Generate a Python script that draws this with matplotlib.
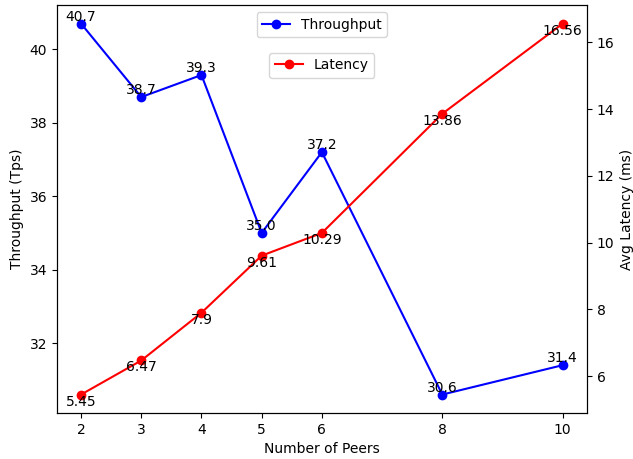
import matplotlib
matplotlib.use("Agg")
import matplotlib.pyplot as plt

peers = [2, 3, 4, 5, 6, 8, 10]
throughput = [40.7, 38.7, 39.3, 35.0, 37.2, 30.6, 31.4]
latency = [5.45, 6.47, 7.9, 9.61, 10.29, 13.86, 16.56]

fig, ax1 = plt.subplots(figsize=(6.33, 4.59), dpi=100)
fig.subplots_adjust(left=0.090, right=0.927, bottom=0.100, top=0.989)

ax1.plot(peers, throughput, marker="o", color="blue", label="Throughput")
for x, y in zip(peers, throughput):
    ax1.text(x, y, str(y), ha="center", va="bottom", fontsize=10)
ax1.set_xlabel("Number of Peers")
ax1.set_ylabel("Throughput (Tps)")
ax1.set_xticks(peers)
ax1.legend(loc="upper center")

ax2 = ax1.twinx()
ax2.plot(peers, latency, marker="o", color="red", label="Latency")
for x, y in zip(peers, latency):
    ax2.text(x, y, str(y), ha="center", va="top", fontsize=10)
ax2.set_ylabel("Avg Latency (ms)")
ax2.legend(loc="upper center", bbox_to_anchor=(0.5, 0.9))

fig.savefig("out.png")
